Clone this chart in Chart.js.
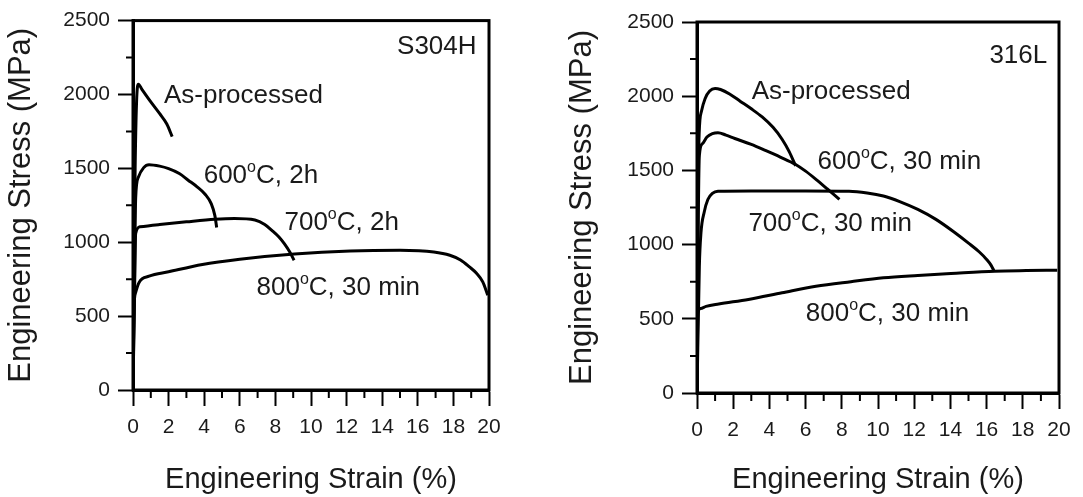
<!DOCTYPE html>
<html>
<head>
<meta charset="utf-8">
<script src="https://cdn.jsdelivr.net/npm/chart.js@4.4.1/dist/chart.umd.min.js"></script>
<style>
  html, body { margin: 0; padding: 0; background: #fff; }
  #wrap { position: relative; width: 1083px; height: 497px; }
  #left { position: absolute; left: 0; top: 0; }
  #right { position: absolute; left: 540px; top: 0; }
</style>
</head>
<body>
<div id="wrap">
  <canvas id="left" width="540" height="497"></canvas>
  <canvas id="right" width="543" height="497"></canvas>
</div>
<script>
// axis ticks
const xMajorTicks = [0, 2, 4, 6, 8, 10, 12, 14, 16, 18, 20];
const xMinorTicks = [1, 3, 5, 7, 9, 11, 13, 15, 17, 19];
const yMajorTicks = [0, 500, 1000, 1500, 2000, 2500];
const yMinorTicks = [250, 750, 1250, 1750, 2250];

// S304H curves (strain %, stress MPa)
const s304AsStrain = [0, 0.05, 0.12, 0.2, 0.3, 0.5, 1.0, 1.5, 1.9, 2.2];
const s304AsStress = [0, 700, 1500, 1950, 2070, 2035, 1950, 1870, 1800, 1715];
const s304_600Strain = [0, 0.08, 0.15, 0.3, 0.6, 0.9, 1.5, 2.0, 2.6, 3.1, 3.6, 4.05, 4.4, 4.6, 4.7];
const s304_600Stress = [0, 700, 1300, 1440, 1505, 1525, 1515, 1498, 1465, 1420, 1375, 1325, 1260, 1180, 1100];
const s304_700Strain = [0, 0.08, 0.15, 0.4, 1.5, 3.0, 4.6, 5.7, 6.85, 7.4, 7.8, 8.2, 8.5, 8.8, 9.05];
const s304_700Stress = [0, 600, 1060, 1105, 1120, 1138, 1155, 1160, 1150, 1120, 1080, 1035, 990, 935, 878];
const s304_800Strain = [0, 0.05, 0.15, 0.35, 0.9, 2, 3.9, 6, 9.07, 12.2, 15, 16.9, 17.8, 18.4, 18.9, 19.3, 19.65, 19.93];
const s304_800Stress = [0, 540, 660, 730, 770, 800, 850, 885, 920, 940, 945, 934, 912, 880, 833, 790, 732, 642];

// 316L curves
const l316AsStrain = [0, 0.05, 0.12, 0.25, 0.45, 0.7, 1.0, 1.3, 1.8, 2.4, 3.0, 3.6, 4.2, 4.7, 5.1, 5.45];
const l316AsStress = [0, 1200, 1750, 1900, 1985, 2035, 2052, 2045, 2015, 1965, 1915, 1860, 1790, 1710, 1625, 1530];
const l316_600Strain = [0, 0.05, 0.13, 0.3, 0.55, 0.85, 1.16, 1.6, 2.09, 3.0, 3.77, 4.6, 5.45, 6.0, 6.57, 7.2, 7.87];
const l316_600Stress = [0, 900, 1600, 1680, 1725, 1748, 1754, 1738, 1715, 1675, 1635, 1590, 1540, 1495, 1440, 1375, 1304];
const l316_700Strain = [0, 0.13, 0.22, 0.4, 0.6, 0.85, 1.16, 3, 6, 8.4, 9.4, 10.3, 11.2, 12.2, 13.2, 14.2, 15.0, 15.6, 16.0, 16.25, 16.4];
const l316_700Stress = [0, 855, 1080, 1220, 1304, 1345, 1360, 1362, 1362, 1360, 1348, 1327, 1290, 1237, 1170, 1085, 1010, 950, 900, 860, 825];
const l316_800Strain = [0, 0.04, 0.2, 0.5, 1.2, 2.84, 4.7, 6.57, 8.5, 10.3, 12.2, 14.03, 16.45, 18.2, 19.9];
const l316_800Stress = [0, 540, 570, 584, 600, 630, 675, 719, 750, 776, 792, 805, 821, 825, 827];

// curve labels, placed in data units
const s304Labels = [
  { text: "S304H", x: 19.3, y: 2277, align: "right" },
  { text: "As-processed", x: 1.74, y: 1939 },
  { text: "600°C, 2h", x: 3.97, y: 1401 },
  { text: "700°C, 2h", x: 8.51, y: 1086 },
  { text: "800°C, 30 min", x: 6.94, y: 642 },
];
const l316Labels = [
  { text: "316L", x: 19.35, y: 2227, align: "right" },
  { text: "As-processed", x: 3.02, y: 1979 },
  { text: "600°C, 30 min", x: 6.66, y: 1511 },
  { text: "700°C, 30 min", x: 2.84, y: 1090 },
  { text: "800°C, 30 min", x: 6.01, y: 483 },
];

const FONT = "Arial, 'Liberation Sans', sans-serif";

function pts(xs, ys) {
  return xs.map((x, i) => ({ x: x, y: ys[i] }));
}

function curve(xs, ys) {
  return {
    data: pts(xs, ys),
    borderColor: "#000",
    borderWidth: 3,
    pointRadius: 0,
    showLine: true,
    fill: false,
    cubicInterpolationMode: "monotone",
  };
}

// box around plot + minor ticks + curve labels
const extras = {
  id: "extras",
  afterDraw(chart, args, opts) {
    const ctx = chart.ctx;
    const a = chart.chartArea;
    const xs = chart.scales.x, ys = chart.scales.y;
    ctx.save();
    ctx.strokeStyle = "#000";
    ctx.lineWidth = 3;
    ctx.strokeRect(a.left, a.top, a.right - a.left, a.bottom - a.top);

    ctx.lineWidth = 2;
    ctx.beginPath();
    for (const v of xMinorTicks) {
      const px = xs.getPixelForValue(v);
      ctx.moveTo(px, a.bottom);
      ctx.lineTo(px, a.bottom + 8);
    }
    for (const v of yMinorTicks) {
      const py = ys.getPixelForValue(v);
      ctx.moveTo(a.left, py);
      ctx.lineTo(a.left - 7, py);
    }
    ctx.stroke();

    const size = opts.size;
    ctx.fillStyle = "#1a1a1a";
    ctx.textBaseline = "alphabetic";
    for (const l of opts.labels) {
      const parts = l.text.split("°");
      ctx.font = size + "px " + FONT;
      let w = ctx.measureText(parts[0]).width;
      let supW = 0, restW = 0;
      if (parts.length > 1) {
        ctx.font = Math.round(size * 0.6) + "px " + FONT;
        supW = ctx.measureText("o").width;
        ctx.font = size + "px " + FONT;
        restW = ctx.measureText(parts[1]).width;
      }
      let px = xs.getPixelForValue(l.x);
      const py = ys.getPixelForValue(l.y);
      if (l.align === "right") px -= w + supW + restW;
      ctx.textAlign = "left";
      ctx.font = size + "px " + FONT;
      ctx.fillText(parts[0], px, py);
      if (parts.length > 1) {
        ctx.font = Math.round(size * 0.6) + "px " + FONT;
        ctx.fillText("o", px + w, py - size * 0.42);
        ctx.font = size + "px " + FONT;
        ctx.fillText(parts[1], px + w + supW, py);
      }
    }
    ctx.restore();
  },
};

function makeChart(id, datasets, labels, box) {
  return new Chart(document.getElementById(id), {
    type: "scatter",
    data: { datasets: datasets },
    plugins: [extras],
    options: {
      responsive: false,
      animation: false,
      layout: { padding: { top: box.top, right: box.right, left: 0, bottom: 0 } },
      plugins: {
        legend: { display: false },
        tooltip: { enabled: false },
        extras: { labels: labels, size: 26 },
      },
      scales: {
        x: {
          type: "linear",
          min: 0,
          max: 20,
          afterFit: (s) => { s.height = box.xh; },
          afterBuildTicks: (s) => { s.ticks = xMajorTicks.map((v) => ({ value: v })); },
          ticks: {
            color: "#1a1a1a",
            font: { family: FONT, size: 21 },
            padding: 9,
            maxRotation: 0,
            callback: (v) => String(v),
          },
          grid: { drawOnChartArea: false, tickLength: 16, tickColor: "#000", tickWidth: 2 },
          border: { display: true, color: "#000", width: 3 },
          title: {
            display: true,
            text: "Engineering Strain (%)",
            color: "#1a1a1a",
            font: { family: FONT, size: 29 },
            padding: { top: box.xt, bottom: 0 },
          },
        },
        y: {
          type: "linear",
          min: 0,
          max: 2500,
          afterFit: (s) => { s.width = box.yw; },
          afterBuildTicks: (s) => { s.ticks = yMajorTicks.map((v) => ({ value: v })); },
          ticks: {
            color: "#1a1a1a",
            font: { family: FONT, size: 21 },
            padding: 8,
            callback: (v) => String(v),
          },
          grid: { drawOnChartArea: false, tickLength: 15, tickColor: "#000", tickWidth: 2 },
          border: { display: true, color: "#000", width: 3 },
          title: {
            display: true,
            text: "Engineering Stress (MPa)",
            color: "#1a1a1a",
            font: { family: FONT, size: 31 },
            padding: { top: box.yt, bottom: 0 },
          },
        },
      },
    },
  });
}

makeChart("left", [
  curve(s304AsStrain, s304AsStress),
  curve(s304_600Strain, s304_600Stress),
  curve(s304_700Strain, s304_700Stress),
  curve(s304_800Strain, s304_800Stress),
], s304Labels, { top: 20, right: 51, xh: 107, yw: 133, yt: 3, xt: 3 });

makeChart("right", [
  curve(l316AsStrain, l316AsStress),
  curve(l316_600Strain, l316_600Stress),
  curve(l316_700Strain, l316_700Stress),
  curve(l316_800Strain, l316_800Stress),
], l316Labels, { top: 22, right: 24, xh: 104, yw: 157, yt: 24, xt: 0 });
</script>
</body>
</html>
